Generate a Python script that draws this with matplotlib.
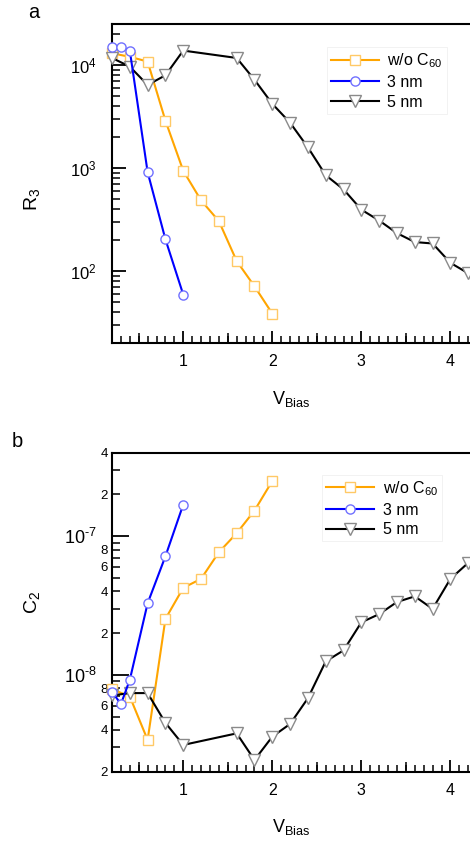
import matplotlib
matplotlib.use('Agg')
import matplotlib.pyplot as plt
from matplotlib.ticker import FixedLocator, FixedFormatter, MultipleLocator, LogLocator, NullFormatter

plt.rcParams['font.family'] = ['Liberation Sans', 'DejaVu Sans']
plt.rcParams['mathtext.fontset'] = 'custom'
plt.rcParams['mathtext.rm'] = 'Liberation Sans'
plt.rcParams['mathtext.it'] = 'Liberation Sans:italic'
plt.rcParams['mathtext.default'] = 'regular'

# bias voltages for each sample
v_noc60 = [0.2, 0.4, 0.6, 0.8, 1.0, 1.2, 1.4, 1.6, 1.8, 2.0]
v_3nm = [0.2, 0.3, 0.4, 0.6, 0.8, 1.0]
v_5nm = [0.2, 0.4, 0.6, 0.8, 1.0, 1.6, 1.8, 2.0, 2.2, 2.4, 2.6, 2.8,
         3.0, 3.2, 3.4, 3.6, 3.8, 4.0, 4.2]

# R3 fit parameter
r3_noc60 = [13000, 12000, 10800, 2880, 940, 485, 305, 125, 71, 38.6]
r3_3nm = [14900, 14900, 13800, 912, 203, 59]
r3_5nm = [11700, 9640, 6400, 7940, 13800, 11700, 7190, 4200, 2750, 1585,
          851, 620, 394, 309, 233, 191, 185, 120, 95]

# C2 fit parameter
c2_noc60 = [7.88e-9, 6.97e-9, 3.39e-9, 2.53e-8, 4.24e-8, 4.92e-8, 7.66e-8,
            1.05e-7, 1.53e-7, 2.5e-7]
c2_3nm = [7.57e-9, 6.14e-9, 9.2e-9, 3.28e-8, 7.16e-8, 1.69e-7]
c2_5nm = [7.1e-9, 7.38e-9, 7.38e-9, 4.5e-9, 3.12e-9, 3.78e-9, 2.43e-9,
          3.58e-9, 4.42e-9, 6.78e-9, 1.25e-8, 1.5e-8, 2.39e-8, 2.74e-8,
          3.35e-8, 3.68e-8, 2.99e-8, 4.92e-8, 6.42e-8]

labels = [r'w/o C$_{60}$', '3 nm', '5 nm']

styles = {
    'noc60': dict(color='#FFA500', marker='s', mec='#FFC966', mfc='white', ms=6.7, zorder=3),
    '3nm': dict(color='#0000FF', marker='o', mec='#7070FF', mfc='white', ms=6.6, zorder=5),
    '5nm': dict(color='black', marker='v', mec='#8a8a8a', mfc='white', ms=8, zorder=4),
}


def style_axes(ax):
    ax.set_xlim(0.2, 4.22)
    ax.spines['right'].set_visible(False)
    for s in ['left', 'bottom', 'top']:
        ax.spines[s].set_linewidth(1.5)
    ax.xaxis.set_major_locator(FixedLocator([1, 2, 3, 4]))
    ax.xaxis.set_minor_locator(MultipleLocator(0.1))
    ax.tick_params(axis='x', which='major', direction='in', length=9, width=1.3,
                   labelsize=11.5, pad=8, top=False)
    ax.tick_params(axis='x', which='minor', direction='in', length=5, width=1.1, top=False)
    # slightly longer ticks at the half volts
    sec = ax.secondary_xaxis('bottom')
    sec.set_xticks([0.5, 1.5, 2.5, 3.5])
    sec.tick_params(direction='in', length=7, width=1.1, labelbottom=False)
    sec.spines['bottom'].set_visible(False)
    ax.set_xlabel(r'V$_{Bias}$', fontsize=13, labelpad=14)


def plot_series(ax, ys, anchor):
    lines = []
    for key, x, y, lab in zip(['noc60', '3nm', '5nm'], [v_noc60, v_3nm, v_5nm], ys, labels):
        ln, = ax.plot(x, y, lw=1.5, mew=1.0, clip_on=False, label=lab, **styles[key])
        lines.append(ln)
    leg = ax.legend(handles=lines, loc='upper left', bbox_to_anchor=anchor, fontsize=11.5,
                    handlelength=3.0, handletextpad=0.55, labelspacing=0.3, borderpad=0.25,
                    borderaxespad=0, fancybox=False, framealpha=1, edgecolor='#f0f0f0')
    leg.get_frame().set_linewidth(0.6)
    return leg


fig = plt.figure(figsize=(4.7, 8.44), dpi=100)

# panel a: R3
ax1 = fig.add_axes([112 / 470, 1 - 343 / 844, 358 / 470, 319 / 844])
ax1.set_yscale('log')
plot_series(ax1, [r3_noc60, r3_3nm, r3_5nm], (0.6, 0.927))
ax1.set_ylim(20, 25000)
style_axes(ax1)
ax1.yaxis.set_major_locator(LogLocator(base=10))
ax1.yaxis.set_minor_locator(LogLocator(base=10, subs=range(2, 10)))
ax1.yaxis.set_minor_formatter(NullFormatter())
ax1.tick_params(axis='y', which='major', direction='in', length=10, width=1.3,
                labelsize=12, pad=11)
ax1.tick_params(axis='y', which='minor', direction='in', length=6, width=1.1)
ax1.set_ylabel(r'R$_3$', fontsize=14)
ax1.yaxis.set_label_coords(-0.195, 0.45)

# panel b: C2
ax2 = fig.add_axes([112 / 470, 1 - 771.7 / 844, 358 / 470, 319 / 844])
ax2.set_yscale('log')
plot_series(ax2, [c2_noc60, c2_3nm, c2_5nm], (0.587, 0.93))
ax2.set_ylim(2e-9, 4e-7)
style_axes(ax2)
ax2.yaxis.set_major_locator(FixedLocator([1e-8, 1e-7]))
ax2.yaxis.set_major_formatter(FixedFormatter([r'$10^{\text{-8}}$', r'$10^{\text{-7}}$']))
minor_vals = ([m * 1e-9 for m in range(2, 10)] + [m * 1e-8 for m in range(2, 10)]
              + [2e-7, 3e-7, 4e-7])
minor_labs = []
for v in minor_vals:
    if v < 1e-8:
        d = int(round(v / 1e-9))
    elif v < 1e-7:
        d = int(round(v / 1e-8))
    else:
        d = int(round(v / 1e-7))
    minor_labs.append(str(d) if d % 2 == 0 else '')
ax2.yaxis.set_minor_locator(FixedLocator(minor_vals))
ax2.yaxis.set_minor_formatter(FixedFormatter(minor_labs))
ax2.tick_params(axis='y', which='major', direction='in', length=12, width=1.3,
                labelsize=13, pad=11)
ax2.tick_params(axis='y', which='minor', direction='in', length=6, width=1.1,
                labelsize=9.5, pad=3)
ax2.set_ylabel(r'C$_2$', fontsize=14)
ax2.yaxis.set_label_coords(-0.195, 0.53)

fig.text(28 / 470, 1 - 18 / 844, 'a', fontsize=14.5, va='baseline', ha='left')
fig.text(12 / 470, 1 - 447 / 844, 'b', fontsize=14.5, va='baseline', ha='left')

fig.savefig('out.png', dpi=100)
